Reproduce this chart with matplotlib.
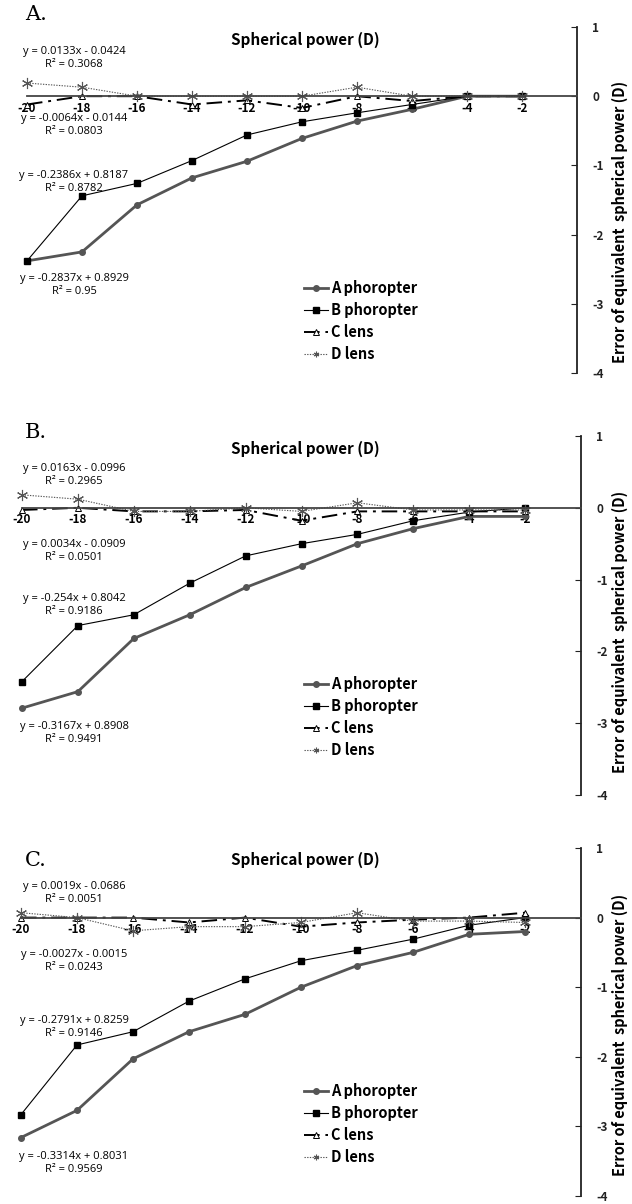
import matplotlib.pyplot as plt
from matplotlib.lines import Line2D

# spherical power (D)
power = [-20, -18, -16, -14, -12, -10, -8, -6, -4, -2]

# panel A
a_phor_A = [-2.38, -2.25, -1.57, -1.18, -0.94, -0.61, -0.36, -0.19, 0.0, 0.0]
b_phor_A = [-2.38, -1.44, -1.26, -0.93, -0.56, -0.37, -0.24, -0.12, 0.0, 0.0]
c_lens_A = [-0.12, 0.0, 0.0, -0.12, -0.06, -0.17, 0.0, -0.07, 0.0, 0.0]
d_lens_A = [0.19, 0.13, 0.0, 0.0, 0.0, 0.0, 0.13, 0.0, 0.0, 0.0]
eq_A = ['y = 0.0133x - 0.0424\nR² = 0.3068',
        'y = -0.0064x - 0.0144\nR² = 0.0803',
        'y = -0.2386x + 0.8187\nR² = 0.8782',
        'y = -0.2837x + 0.8929\nR² = 0.95']

# panel B
a_phor_B = [-2.79, -2.56, -1.82, -1.49, -1.11, -0.81, -0.5, -0.29, -0.12, -0.12]
b_phor_B = [-2.42, -1.64, -1.49, -1.05, -0.67, -0.5, -0.37, -0.18, -0.06, 0.0]
c_lens_B = [-0.03, 0.0, -0.05, -0.05, -0.03, -0.18, -0.05, -0.05, -0.05, -0.05]
d_lens_B = [0.18, 0.12, -0.05, -0.05, 0.0, -0.05, 0.07, -0.03, -0.03, -0.03]
eq_B = ['y = 0.0163x - 0.0996\nR² = 0.2965',
        'y = 0.0034x - 0.0909\nR² = 0.0501',
        'y = -0.254x + 0.8042\nR² = 0.9186',
        'y = -0.3167x + 0.8908\nR² = 0.9491']

# panel C
a_phor_C = [-3.16, -2.77, -2.03, -1.64, -1.39, -1.0, -0.69, -0.5, -0.24, -0.2]
b_phor_C = [-2.83, -1.83, -1.64, -1.2, -0.88, -0.62, -0.47, -0.31, -0.11, 0.0]
c_lens_C = [0.0, 0.0, 0.0, -0.07, 0.0, -0.13, -0.07, -0.03, 0.0, 0.07]
d_lens_C = [0.07, 0.0, -0.19, -0.13, -0.13, -0.07, 0.07, -0.05, -0.05, -0.07]
eq_C = ['y = 0.0019x - 0.0686\nR² = 0.0051',
        'y = -0.0027x - 0.0015\nR² = 0.0243',
        'y = -0.2791x + 0.8259\nR² = 0.9146',
        'y = -0.3314x + 0.8031\nR² = 0.9569']

series_names = ['A phoropter', 'B phoropter', 'C lens', 'D lens']
y_ticks = [1, 0, -1, -2, -3, -4]

W, H = 632, 1204
LABEL_FONT = ['Noto Sans CJK KR', 'DejaVu Sans']
EQ_FONT = ['Open Sans', 'DejaVu Sans']

styles = [
    dict(color='#555555', lw=2.0, marker='o', ms=4, mfc='#555555', mec='#555555'),
    dict(color='black', lw=0.8, marker='s', ms=5, mfc='black', mec='black'),
    dict(color='black', lw=1.4, ls=(0, (8, 3, 1.5, 3)), marker='^', ms=5, mfc='white', mec='black', mew=0.7),
    dict(color='#555555', lw=0.8, ls=(0, (1.2, 1.2)), marker=(6, 2, 0), ms=8, mec='#555555', mew=0.8),
]


def px(x, y):
    return x / W, 1 - y / H


def make_panel(fig, letter, box, series, eqs, eq_y, letter_y, title_y, legend_y, ylab_y):
    left, top, right, bottom = box
    ax = fig.add_axes([left / W, 1 - bottom / H, (right - left) / W, (bottom - top) / H])

    for vals, st in zip(series, styles):
        ax.plot(power, vals, clip_on=False, **st)

    ax.set_xlim(-20, 0)
    ax.set_ylim(-4, 1)
    for s in ['top', 'left']:
        ax.spines[s].set_visible(False)
    ax.spines['bottom'].set_position(('data', 0))
    ax.spines['bottom'].set_color('#444444')
    ax.spines['bottom'].set_linewidth(1.3)
    ax.spines['right'].set_linewidth(1.3)
    ax.spines['right'].set_color('#222222')

    ax.set_xticks(power)
    ax.set_xticklabels([str(v) for v in power], fontweight='bold', fontsize=8.5, family=LABEL_FONT)
    ax.tick_params(axis='x', length=0, pad=4)
    ax.yaxis.tick_right()
    ax.set_yticks(y_ticks)
    ax.set_yticklabels([str(v) for v in y_ticks], fontweight='bold', fontsize=8.5, family=LABEL_FONT)
    ax.tick_params(axis='y', direction='out', length=3, pad=8, colors='#222222')
    for t in ax.yaxis.get_major_ticks():
        t.tick2line.set_marker(0)  # tick mark on left side of the axis line
        t.tick2line.set_markersize(4)

    fig.text(*px(25, letter_y), letter, fontsize=15, family='DejaVu Serif', va='center', ha='left')
    fig.text(*px(305, title_y), 'Spherical power (D)', fontsize=11, fontweight='bold',
             family=LABEL_FONT, ha='center', va='center')
    fig.text(*px(620, ylab_y), 'Error of equivalent  spherical power (D)', fontsize=10.5,
             fontweight='bold', family=LABEL_FONT, rotation=90, ha='center', va='center')

    for txt, yy in zip(eqs, eq_y):
        fig.text(*px(74, yy), txt, fontsize=8, family=EQ_FONT, ha='center', va='center',
                 linespacing=1.25)

    handles = [Line2D([], [], **st) for st in styles]
    leg = ax.legend(handles, series_names, loc='upper left',
                    bbox_to_anchor=((297 - left) / (right - left), (bottom - legend_y) / (bottom - top)),
                    frameon=False, handlelength=1.6, handletextpad=0.25, labelspacing=0.4,
                    borderpad=0, prop=dict(weight='bold', size=10.5, family=LABEL_FONT))
    for h in leg.legend_handles:
        h.set_markersize(4)
    return ax


fig = plt.figure(figsize=(W / 100, H / 100), dpi=100)
fig.patch.set_facecolor('white')

make_panel(fig, 'A.', (27, 27, 577, 373),
           [a_phor_A, b_phor_A, c_lens_A, d_lens_A], eq_A,
           [58, 125, 182, 285], 15, 40, 273, 222)
make_panel(fig, 'B.', (22, 436, 581, 795),
           [a_phor_B, b_phor_B, c_lens_B, d_lens_B], eq_B,
           [475, 551, 605, 733], 433, 449, 669, 632)
make_panel(fig, 'C.', (21, 848, 581, 1196),
           [a_phor_C, b_phor_C, c_lens_C, d_lens_C], eq_C,
           [893, 961, 1027, 1163], 860, 860, 1076, 1035)

fig.savefig('out.png', dpi=100)
